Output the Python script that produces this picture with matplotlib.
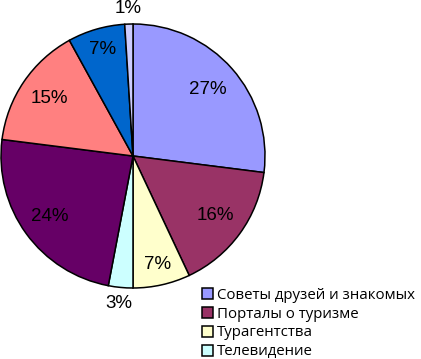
import numpy as np
import matplotlib.pyplot as plt

# shares in percent, clockwise from 12 o'clock
values = [27, 16, 7, 3, 24, 15, 7, 1]
colors = ["#9999FF", "#993366", "#FFFFCC", "#CCFFFF",
          "#660066", "#FF8080", "#0066CC", "#CCCCFF"]
# only the first four legend entries are visible in the source picture
legend_labels = ["Советы друзей и знакомых", "Порталы о туризме",
                 "Турагентства", "Телевидение"]
# radial position of each percent label (fraction of radius)
label_dist = [0.76, 0.77, 0.84, 1.12, 0.78, 0.77, 0.84, 1.12]

W, H = 421, 359
fig = plt.figure(figsize=(W / 100, H / 100), dpi=100)
ax = fig.add_axes([0, 0, 1, 1])

cx, cy, r = 133, H - 156, 132
wedges, _ = ax.pie(values, colors=colors, startangle=90, counterclock=False,
                   center=(cx, cy), radius=r, frame=True,
                   wedgeprops=dict(edgecolor="black", linewidth=1.1))
ax.set_xlim(0, W)
ax.set_ylim(0, H)
ax.set_aspect("equal")
ax.axis("off")

for w, v, d in zip(wedges, values, label_dist):
    ang = np.deg2rad((w.theta1 + w.theta2) / 2)
    ax.text(cx + d * r * np.cos(ang), cy + d * r * np.sin(ang), f"{v}%",
            ha="center", va="center", fontsize=13.5,
            family="Liberation Sans", color="black")

leg = ax.legend(wedges[:4], legend_labels, loc="upper left",
                bbox_to_anchor=(202 / W, 1 - 288 / H), frameon=False,
                prop={"family": "Open Sans", "size": 10.8},
                handlelength=0.75, handleheight=0.75, handletextpad=0.25,
                labelspacing=0.25, borderpad=0, borderaxespad=0)

fig.savefig("out.png", dpi=100)
